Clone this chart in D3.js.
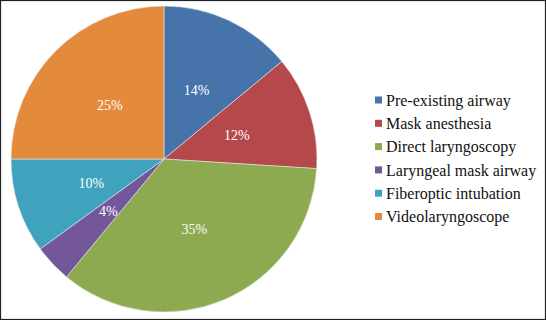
<!DOCTYPE html>
<html><head><meta charset="utf-8">
<script src="https://cdn.jsdelivr.net/npm/d3@7"></script>
<style>html,body{margin:0;padding:0;background:#fff;}svg{display:block;}
text{font-family:"Liberation Serif","Times New Roman","DejaVu Serif",serif;}</style>
</head><body>
<svg id="c" width="546" height="320"></svg>
<script>
const categories = ["Pre-existing airway","Mask anesthesia","Direct laryngoscopy","Laryngeal mask airway","Fiberoptic intubation","Videolaryngoscope"];
const values = [14, 12, 35, 4, 10, 25];
const colors = ["#4674AA","#B4484A","#8DAA50","#73579A","#3FA3BD","#E38A3D"];

const svg = d3.select("#c");
svg.append("rect").attr("x",0.5).attr("y",0.5).attr("width",545).attr("height",319)
  .attr("fill","#fff").attr("stroke","#222").attr("stroke-width",1.2);

const cx = 164, cy = 159, R = 153;
const pie = d3.pie().sort(null).value(d => d)(values);
const arc = d3.arc().innerRadius(0).outerRadius(R);
const labelArc = d3.arc().innerRadius(R*0.5).outerRadius(R*0.5);
const g = svg.append("g").attr("transform",`translate(${cx},${cy})`);
g.selectAll("path").data(pie).join("path")
  .attr("d", arc).attr("fill",(d,i)=>colors[i])
  .attr("stroke","#e8e8e8").attr("stroke-width",0.6);
g.selectAll("text").data(pie).join("text")
  .attr("transform", d => `translate(${labelArc.centroid(d)})`)
  .attr("text-anchor","middle").attr("dy","0.35em")
  .style("font-size","14px").attr("fill","#fff")
  .text(d => d.data + "%");

const lg = svg.append("g").attr("transform","translate(375,100)");
const items = lg.selectAll("g").data(categories).join("g")
  .attr("transform",(d,i)=>`translate(0,${i*23.3})`);
items.append("rect").attr("x",0).attr("y",-3.5).attr("width",7).attr("height",7)
  .attr("fill",(d,i)=>colors[i]);
items.append("text").attr("x",11).attr("dy","0.35em")
  .style("font-size","16px").attr("fill","#111").text(d=>d);
</script>
</body></html>
